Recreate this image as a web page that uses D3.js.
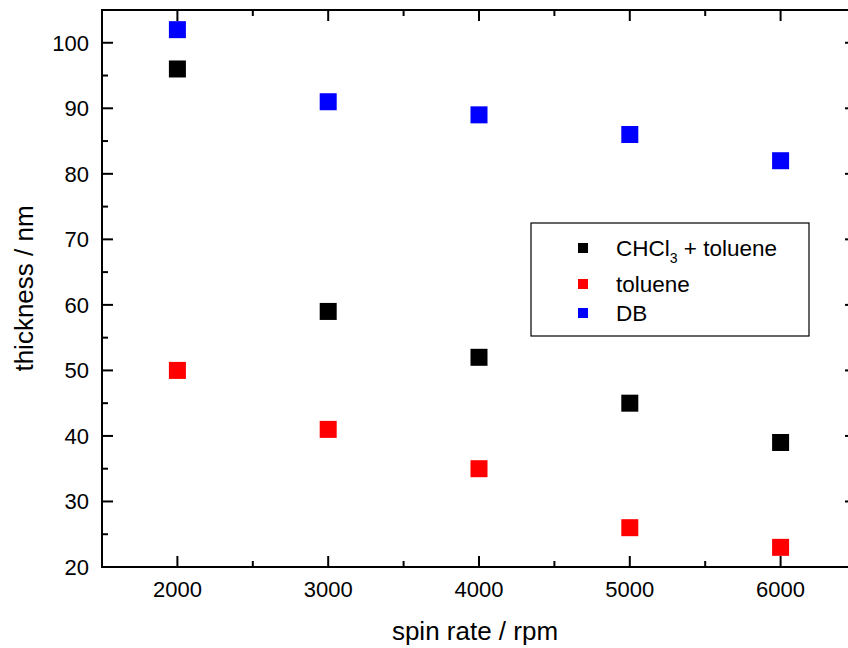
<!DOCTYPE html>
<html>
<head>
<meta charset="utf-8">
<script src="https://cdn.jsdelivr.net/npm/d3@7"></script>
<style>
  body { margin: 0; background: #fff; }
  text { font-family: "Liberation Sans", Arial, sans-serif; fill: #000; }
</style>
</head>
<body>
<svg id="chart"></svg>
<script>
const spinRates = [2000, 3000, 4000, 5000, 6000];
const chclToluene = [96, 59, 52, 45, 39];
const toluene = [50, 41, 35, 26, 23];
const dbThickness = [102, 91, 89, 86, 82];
const seriesNames = ["CHCl3 + toluene", "toluene", "DB"];
const seriesColors = ["#000000", "#ff0000", "#0000ff"];

const width = 848, height = 648;
const margin = { left: 102, top: 10, right: -8, bottom: 81 };
const svg = d3.select("#chart").attr("width", width).attr("height", height);

const x = d3.scaleLinear().domain([1500, 6500]).range([margin.left, width - margin.right]);
const y = d3.scaleLinear().domain([20, 105]).range([height - margin.bottom, margin.top]);

const x0 = x.range()[0], x1 = x.range()[1];
const y0 = y.range()[0], y1 = y.range()[1];

// ticks (inward on all four sides)
const xMajor = d3.range(2000, 6001, 1000);
const xMinor = d3.range(1500, 6501, 500).filter(v => v % 1000 !== 0);
const yMajor = d3.range(20, 101, 10);
const yMinor = d3.range(25, 106, 10);

const tickG = svg.append("g").attr("stroke", "#000").attr("stroke-width", 2);
function tick(xa, ya, xb, yb) {
    tickG.append("line").attr("x1", xa).attr("y1", ya).attr("x2", xb).attr("y2", yb);
}
xMajor.forEach(v => { tick(x(v), y0, x(v), y0 - 11); tick(x(v), y1, x(v), y1 + 11); });
xMinor.forEach(v => { tick(x(v), y0, x(v), y0 - 6); tick(x(v), y1, x(v), y1 + 6); });
yMajor.forEach(v => { tick(x0, y(v), x0 + 11, y(v)); tick(x1, y(v), x1 - 11, y(v)); });
yMinor.forEach(v => { tick(x0, y(v), x0 + 6, y(v)); tick(x1, y(v), x1 - 6, y(v)); });

// frame
svg.append("rect")
    .attr("x", x0).attr("y", y1)
    .attr("width", x1 - x0).attr("height", y0 - y1)
    .attr("fill", "none").attr("stroke", "#000").attr("stroke-width", 2);

// tick labels
svg.append("g").selectAll("text").data(xMajor).enter().append("text")
    .attr("x", d => x(d)).attr("y", y0 + 30)
    .attr("text-anchor", "middle").style("font-size", "22px")
    .text(d => d);
svg.append("g").selectAll("text").data(yMajor).enter().append("text")
    .attr("x", x0 - 13).attr("y", d => y(d) + 8)
    .attr("text-anchor", "end").style("font-size", "22px")
    .text(d => d);

// axis titles
svg.append("text")
    .attr("x", 475).attr("y", 640)
    .attr("text-anchor", "middle").style("font-size", "26px")
    .text("spin rate / rpm");
svg.append("text")
    .attr("transform", `translate(33,${(y0 + y1) / 2}) rotate(-90)`)
    .attr("text-anchor", "middle").style("font-size", "26px")
    .text("thickness / nm");

// points
const series = [chclToluene, toluene, dbThickness];
const size = 17;
series.forEach((vals, i) => {
    svg.append("g").selectAll("rect").data(vals).enter().append("rect")
        .attr("x", (d, j) => x(spinRates[j]) - size / 2)
        .attr("y", d => y(d) - size / 2)
        .attr("width", size).attr("height", size)
        .attr("fill", seriesColors[i]);
});

// legend
const legend = svg.append("g");
legend.append("rect")
    .attr("x", 531).attr("y", 223).attr("width", 278).attr("height", 113)
    .attr("fill", "#fff").attr("stroke", "#000").attr("stroke-width", 1.2);
const rowY = [248, 284, 313];
seriesNames.forEach((name, i) => {
    legend.append("rect")
        .attr("x", 578).attr("y", rowY[i] - 5)
        .attr("width", 10).attr("height", 10)
        .attr("fill", seriesColors[i]);
    const t = legend.append("text")
        .attr("x", 616).attr("y", rowY[i] + 8)
        .style("font-size", "22.5px");
    if (i === 0) {
        t.append("tspan").text("CHCl");
        t.append("tspan").attr("dy", 7).style("font-size", "14px").text("3");
        t.append("tspan").attr("dy", -7).text(" + toluene");
    } else {
        t.text(name);
    }
});
</script>
</body>
</html>
